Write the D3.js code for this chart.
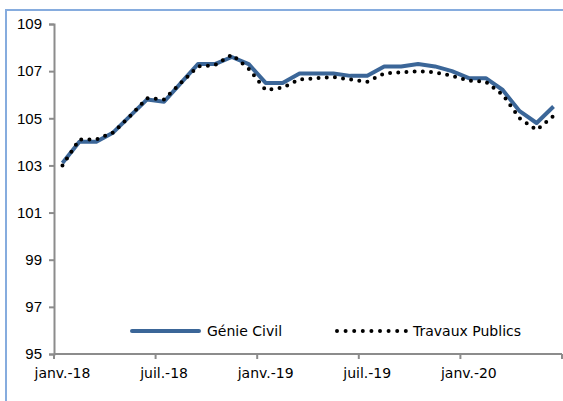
<!DOCTYPE html>
<html>
<head>
<meta charset="utf-8">
<script src="https://d3js.org/d3.v7.min.js"></script>
<style>
  body { margin: 0; background: #fff; }
  svg { display: block; }
</style>
</head>
<body>
<div id="chart"></div>
<script>
// monthly categories, janv.-18 .. juin-20
const months = ["janv.", "févr.", "mars", "avr.", "mai", "juin",
                "juil.", "août", "sept.", "oct.", "nov.", "déc."];
const categories = [];
["18", "19", "20"].forEach(y => months.forEach(m => categories.push(m + "-" + y)));
categories.splice(30);

const genieCivil = [103.1, 104.0, 104.0, 104.4, 105.1, 105.8, 105.7, 106.5, 107.3, 107.3,
                    107.6, 107.3, 106.5, 106.5, 106.9, 106.9, 106.9, 106.8, 106.8, 107.2,
                    107.2, 107.3, 107.2, 107.0, 106.7, 106.7, 106.2, 105.3, 104.8, 105.5];
const travauxPublics = [103.0, 104.1, 104.1, 104.4, 105.1, 105.85, 105.8, 106.5, 107.2, 107.25,
                        107.7, 107.1, 106.2, 106.3, 106.65, 106.7, 106.75, 106.65, 106.55, 106.9,
                        106.95, 107.0, 106.95, 106.8, 106.6, 106.55, 106.0, 105.0, 104.5, 105.1];
const yTicks = [95, 97, 99, 101, 103, 105, 107, 109];

const width = 563, height = 401;
const margin = { left: 54, right: 562, top: 24, bottom: 354 };

const svg = d3.select("#chart").append("svg")
    .attr("width", width).attr("height", height);

// outer frame (only top and left visible)
svg.append("path")
    .attr("d", `M6,${height} V10 H${width}`)
    .attr("fill", "none")
    .attr("stroke", "#86ACDE")
    .attr("stroke-width", 2);

const x = d3.scaleBand().domain(categories).range([margin.left, margin.right]);
const y = d3.scaleLinear().domain([95, 109]).range([margin.bottom, margin.top]);
const cx = d => x(d) + x.bandwidth() / 2;

// y axis
const yAxis = svg.append("g")
    .attr("transform", `translate(${margin.left},0)`)
    .call(d3.axisLeft(y).tickValues(yTicks).tickSize(5).tickPadding(7).tickFormat(d3.format("d")));
yAxis.select(".domain").attr("stroke", "#8c8c8c").attr("stroke-width", 2);
yAxis.selectAll(".tick line").attr("stroke", "#8c8c8c").attr("stroke-width", 2);
yAxis.selectAll("text")
    .attr("font-family", "Liberation Sans, Arial, sans-serif")
    .attr("font-size", 15).attr("fill", "#000");

// x axis: ticks every 6 months between categories
const xAxis = svg.append("g").attr("transform", `translate(0,${margin.bottom})`);
xAxis.append("line")
    .attr("x1", margin.left).attr("x2", margin.right)
    .attr("stroke", "#8c8c8c").attr("stroke-width", 2);
const tickIdx = d3.range(0, categories.length + 1, 6);
xAxis.selectAll(".tk").data(tickIdx).join("line")
    .attr("x1", i => margin.left + i * x.step()).attr("x2", i => margin.left + i * x.step())
    .attr("y1", 0).attr("y2", 5)
    .attr("stroke", "#8c8c8c").attr("stroke-width", 2);
xAxis.selectAll(".lbl").data(categories.filter((c, i) => i % 6 === 0)).join("text")
    .attr("x", d => cx(d)).attr("y", 24)
    .attr("text-anchor", "middle")
    .attr("font-family", "DejaVu Sans, sans-serif")
    .attr("font-size", 14).attr("fill", "#000")
    .text(d => d);

const line = d3.line().x((d, i) => cx(categories[i])).y(d => y(d));

svg.append("path").datum(genieCivil)
    .attr("d", line)
    .attr("fill", "none")
    .attr("stroke", "#3B6698")
    .attr("stroke-width", 4)
    .attr("stroke-linejoin", "round");

svg.append("path").datum(travauxPublics)
    .attr("d", line)
    .attr("fill", "none")
    .attr("stroke", "#000")
    .attr("stroke-width", 4)
    .attr("stroke-linecap", "round")
    .attr("stroke-dasharray", "0 8.2");

// legend
const legend = svg.append("g").attr("font-family", "DejaVu Sans, sans-serif").attr("font-size", 14);
legend.append("line")
    .attr("x1", 132).attr("x2", 199).attr("y1", 331).attr("y2", 331)
    .attr("stroke", "#3B6698").attr("stroke-width", 4).attr("stroke-linecap", "round");
legend.append("text").attr("x", 207).attr("y", 336).text("Génie Civil");
legend.append("line")
    .attr("x1", 337).attr("x2", 406).attr("y1", 331).attr("y2", 331)
    .attr("stroke", "#000").attr("stroke-width", 4)
    .attr("stroke-linecap", "round").attr("stroke-dasharray", "0 8.6");
legend.append("text").attr("x", 413).attr("y", 336).text("Travaux Publics");
</script>
</body>
</html>
